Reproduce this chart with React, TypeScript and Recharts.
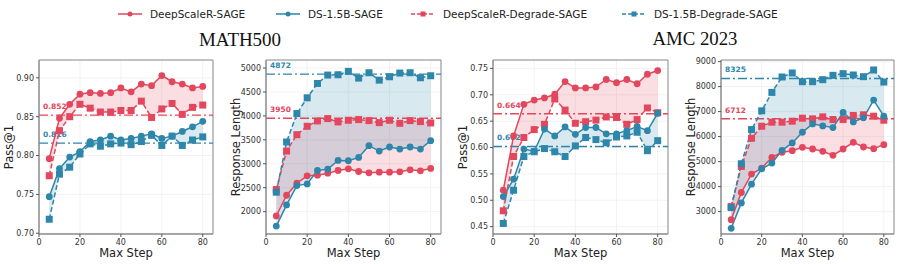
import React from 'react';
import {
  ComposedChart,
  Line,
  Area,
  XAxis,
  YAxis,
  CartesianGrid,
  ReferenceLine,
  ReferenceArea,
} from 'recharts';

const RED = '#e3475d';
const BLUE = '#2e86ab';
const SPINE = '#8c8c8c';

const steps = [5, 10, 15, 20, 25, 30, 35, 40, 45, 50, 55, 60, 65, 70, 75, 80];

// MATH500 - Pass@1
const mathAccSage = [0.796, 0.848, 0.866, 0.879, 0.881, 0.880, 0.881, 0.887, 0.882, 0.892, 0.890, 0.903, 0.895, 0.892, 0.887, 0.889];
const mathAccDegrade = [0.774, 0.832, 0.850, 0.866, 0.861, 0.856, 0.856, 0.858, 0.858, 0.870, 0.849, 0.860, 0.867, 0.853, 0.862, 0.865];
const mathAccDs = [0.747, 0.783, 0.798, 0.805, 0.818, 0.820, 0.825, 0.820, 0.822, 0.825, 0.828, 0.822, 0.825, 0.831, 0.837, 0.844];
const mathAccDsDegrade = [0.718, 0.776, 0.785, 0.802, 0.815, 0.812, 0.815, 0.816, 0.814, 0.818, 0.826, 0.813, 0.825, 0.813, 0.820, 0.824];

// MATH500 - Response Length
const mathLenSage = [1909, 2343, 2594, 2748, 2762, 2804, 2860, 2895, 2839, 2811, 2825, 2825, 2832, 2874, 2853, 2902];
const mathLenDegrade = [2462, 3266, 3608, 3783, 3895, 3944, 3874, 3909, 3923, 3902, 3860, 3909, 3846, 3902, 3881, 3853];
const mathLenDs = [1699, 2140, 2545, 2580, 2860, 2888, 3070, 3063, 3133, 3378, 3266, 3350, 3308, 3350, 3308, 3483];
const mathLenDsDegrade = [2406, 3455, 4049, 4378, 4678, 4853, 4860, 4930, 4790, 4902, 4748, 4818, 4895, 4902, 4797, 4839];

// AMC 2023 - Pass@1
const amcAccSage = [0.519, 0.622, 0.682, 0.690, 0.694, 0.701, 0.725, 0.713, 0.713, 0.715, 0.729, 0.723, 0.729, 0.721, 0.739, 0.746];
const amcAccDegrade = [0.480, 0.583, 0.619, 0.634, 0.644, 0.692, 0.671, 0.646, 0.649, 0.652, 0.658, 0.657, 0.644, 0.653, 0.675, 0.666];
const amcAccDs = [0.507, 0.540, 0.597, 0.593, 0.635, 0.622, 0.639, 0.625, 0.638, 0.638, 0.626, 0.626, 0.632, 0.640, 0.632, 0.665];
const amcAccDsDegrade = [0.456, 0.519, 0.583, 0.592, 0.598, 0.592, 0.583, 0.603, 0.619, 0.615, 0.609, 0.620, 0.622, 0.629, 0.594, 0.613];

// AMC 2023 - Response Length
const amcLenSage = [2679, 3764, 4500, 4741, 5170, 5371, 5438, 5572, 5504, 5411, 5250, 5504, 5773, 5585, 5518, 5679];
const amcLenDegrade = [3201, 4808, 5933, 6415, 6576, 6576, 6616, 6737, 6710, 6790, 6683, 6683, 6844, 6871, 6817, 6656];
const amcLenDs = [2331, 3349, 4099, 4714, 4942, 5451, 5746, 6174, 6509, 6429, 6362, 6964, 6589, 6750, 7460, 6817];
const amcLenDsDegrade = [3161, 4915, 6281, 7031, 7768, 8384, 8545, 8196, 8196, 8277, 8451, 8518, 8464, 8397, 8665, 8183];

// baselines (dash-dot lines)
const mathAccRefs = { red: 0.852, blue: 0.816 };
const mathLenRefs = { red: 3950, blue: 4872 };
const amcAccRefs = { red: 0.664, blue: 0.602 };
const amcLenRefs = { red: 6712, blue: 8325 };

const legendItems = [
  { name: 'DeepScaleR-SAGE', color: RED, dashed: false },
  { name: 'DS-1.5B-SAGE', color: BLUE, dashed: false },
  { name: 'DeepScaleR-Degrade-SAGE', color: RED, dashed: true },
  { name: 'DS-1.5B-Degrade-SAGE', color: BLUE, dashed: true },
];

const xTicks = [0, 20, 40, 60, 80];

type Row = {
  step: number;
  sage: number;
  degrade: number;
  ds: number;
  dsDegrade: number;
  redBand: [number, number];
  blueBand: [number, number];
};

const buildRows = (sage: number[], degrade: number[], ds: number[], dsDegrade: number[]): Row[] =>
  steps.map((s, i) => ({
    step: s,
    sage: sage[i],
    degrade: degrade[i],
    ds: ds[i],
    dsDegrade: dsDegrade[i],
    redBand: [sage[i], degrade[i]],
    blueBand: [ds[i], dsDegrade[i]],
  }));

const squareDot = (color: string) => (props: any) => {
  const { cx, cy, index } = props;
  if (cx == null || cy == null) return <g key={index} />;
  return <rect key={index} x={cx - 3.5} y={cy - 3.5} width={7} height={7} fill={color} />;
};

const yAxisLabel = (text: string) => (props: any) => {
  const { viewBox } = props;
  const x = viewBox.x + viewBox.width - 30;
  const y = viewBox.y + viewBox.height / 2;
  return (
    <text
      x={x}
      y={y}
      transform={`rotate(-90 ${x} ${y})`}
      textAnchor="middle"
      dominantBaseline="central"
      fontSize={11.5}
      fill="#222"
    >
      {text}
    </text>
  );
};

const refLabel = (text: string, color: string) => (props: any) => {
  const { viewBox } = props;
  return (
    <text x={viewBox.x + 4} y={viewBox.y - 6} fill={color} fontSize={7.5} fontWeight="bold">
      {text}
    </text>
  );
};

interface PanelProps {
  left: number;
  width: number;
  plotLeft: number;
  plotRight: number;
  rows: Row[];
  yDomain: [number, number];
  yTicks: number[];
  yLabel: string;
  fmt: (v: number) => string;
  refs: { red: number; blue: number };
}

const Panel: React.FC<PanelProps> = ({ left, width, plotLeft, plotRight, rows, yDomain, yTicks, yLabel, fmt, refs }) => {
  const axisW = plotLeft - left;
  const rightM = left + width - plotRight;
  return (
    <div style={{ position: 'absolute', left, top: 0, width, height: 264 }}>
      <ComposedChart width={width} height={264} data={rows} margin={{ top: 60, right: rightM, bottom: 0, left: 0 }}>
        <CartesianGrid stroke="#f2f2f2" />
        <XAxis
          dataKey="step"
          type="number"
          domain={[0, 85]}
          ticks={xTicks}
          height={30}
          tick={{ fontSize: 8, fill: '#333' }}
          tickSize={3}
          tickMargin={2}
          tickLine={{ stroke: '#555' }}
          axisLine={{ stroke: SPINE }}
          label={{ value: 'Max Step', position: 'insideBottom', offset: 7, fontSize: 11.5, fill: '#222' }}
        />
        <YAxis
          type="number"
          domain={yDomain}
          ticks={yTicks}
          allowDataOverflow
          width={axisW}
          tick={{ fontSize: 8, fill: '#333' }}
          tickSize={3}
          tickMargin={2}
          tickLine={{ stroke: '#555' }}
          axisLine={{ stroke: SPINE }}
          tickFormatter={fmt}
          label={yAxisLabel(yLabel)}
        />
        <Area
          dataKey="redBand"
          type="linear"
          stroke="none"
          fill={RED}
          fillOpacity={0.18}
          activeDot={false}
          isAnimationActive={false}
        />
        <Area
          dataKey="blueBand"
          type="linear"
          stroke="none"
          fill={BLUE}
          fillOpacity={0.18}
          activeDot={false}
          isAnimationActive={false}
        />
        <ReferenceLine
          y={refs.red}
          stroke={RED}
          strokeWidth={1.4}
          strokeDasharray="9 3 2 3"
          label={refLabel(fmt === fmtInt ? String(refs.red) : refs.red.toFixed(3), RED)}
        />
        <ReferenceLine
          y={refs.blue}
          stroke={BLUE}
          strokeWidth={1.4}
          strokeDasharray="9 3 2 3"
          label={refLabel(fmt === fmtInt ? String(refs.blue) : refs.blue.toFixed(3), BLUE)}
        />
        <Line
          dataKey="degrade"
          type="linear"
          stroke={RED}
          strokeWidth={1.5}
          strokeDasharray="5 2.5"
          dot={squareDot(RED)}
          activeDot={false}
          isAnimationActive={false}
        />
        <Line
          dataKey="dsDegrade"
          type="linear"
          stroke={BLUE}
          strokeWidth={1.5}
          strokeDasharray="5 2.5"
          dot={squareDot(BLUE)}
          activeDot={false}
          isAnimationActive={false}
        />
        <Line
          dataKey="sage"
          type="linear"
          stroke={RED}
          strokeWidth={1.5}
          dot={{ r: 3.4, fill: RED, stroke: RED, strokeWidth: 0 }}
          activeDot={false}
          isAnimationActive={false}
        />
        <Line
          dataKey="ds"
          type="linear"
          stroke={BLUE}
          strokeWidth={1.5}
          dot={{ r: 3.4, fill: BLUE, stroke: BLUE, strokeWidth: 0 }}
          activeDot={false}
          isAnimationActive={false}
        />
        <ReferenceArea x1={0} x2={85} y1={yDomain[0]} y2={yDomain[1]} fill="none" stroke={SPINE} strokeWidth={1} />
      </ComposedChart>
    </div>
  );
};

const fmtAcc = (v: number) => v.toFixed(2);
const fmtInt = (v: number) => String(v);

const Legend: React.FC = () => {
  const starts = [150, 308, 443, 654];
  return (
    <g>
      {legendItems.map((it, i) => {
        const tx = starts[i];
        const x1 = tx - 32;
        const x2 = tx - 8;
        const cx = (x1 + x2) / 2;
        return (
          <g key={it.name}>
            <line
              x1={x1}
              x2={x2}
              y1={14}
              y2={14}
              stroke={it.color}
              strokeWidth={1.5}
              strokeDasharray={it.dashed ? '4 2' : undefined}
            />
            {it.dashed ? (
              <rect x={cx - 2.5} y={11.5} width={5} height={5} fill={it.color} />
            ) : (
              <circle cx={cx} cy={14} r={2.5} fill={it.color} />
            )}
            <text x={tx} y={14} dominantBaseline="central" fontSize={10.5} fill="#222">
              {it.name}
            </text>
          </g>
        );
      })}
    </g>
  );
};

export default function App() {
  const mathAccRows = buildRows(mathAccSage, mathAccDegrade, mathAccDs, mathAccDsDegrade);
  const mathLenRows = buildRows(mathLenSage, mathLenDegrade, mathLenDs, mathLenDsDegrade);
  const amcAccRows = buildRows(amcAccSage, amcAccDegrade, amcAccDs, amcAccDsDegrade);
  const amcLenRows = buildRows(amcLenSage, amcLenDegrade, amcLenDs, amcLenDsDegrade);

  return (
    <div
      style={{
        position: 'absolute',
        left: 0,
        top: 0,
        width: 900,
        height: 264,
        background: '#fff',
        fontFamily: '"DejaVu Sans", sans-serif',
        overflow: 'hidden',
      }}
    >
      <svg width={900} height={264} style={{ position: 'absolute', left: 0, top: 0 }}>
        <Legend />
        <text
          x={240}
          y={46}
          textAnchor="middle"
          fontFamily='"Liberation Serif", serif'
          fontSize={19}
          textLength={82}
          lengthAdjust="spacingAndGlyphs"
          fill="#111"
        >
          MATH500
        </text>
        <text
          x={695}
          y={45}
          textAnchor="middle"
          fontFamily='"Liberation Serif", serif'
          fontSize={19}
          textLength={85}
          lengthAdjust="spacingAndGlyphs"
          fill="#111"
        >
          AMC 2023
        </text>
      </svg>
      <Panel
        left={0}
        width={222}
        plotLeft={39}
        plotRight={213}
        rows={mathAccRows}
        yDomain={[0.699, 0.923]}
        yTicks={[0.7, 0.75, 0.8, 0.85, 0.9]}
        yLabel="Pass@1"
        fmt={fmtAcc}
        refs={mathAccRefs}
      />
      <Panel
        left={225}
        width={225}
        plotLeft={266}
        plotRight={441}
        rows={mathLenRows}
        yDomain={[1533, 5168]}
        yTicks={[2000, 2500, 3000, 3500, 4000, 4500, 5000]}
        yLabel="Response Length"
        fmt={fmtInt}
        refs={mathLenRefs}
      />
      <Panel
        left={452}
        width={223}
        plotLeft={493}
        plotRight={668}
        rows={amcAccRows}
        yDomain={[0.436, 0.766]}
        yTicks={[0.45, 0.5, 0.55, 0.6, 0.65, 0.7, 0.75]}
        yLabel="Pass@1"
        fmt={fmtAcc}
        refs={amcAccRefs}
      />
      <Panel
        left={678}
        width={222}
        plotLeft={721}
        plotRight={894}
        rows={amcLenRows}
        yDomain={[2104, 9064]}
        yTicks={[3000, 4000, 5000, 6000, 7000, 8000, 9000]}
        yLabel="Response Length"
        fmt={fmtInt}
        refs={amcLenRefs}
      />
    </div>
  );
}
